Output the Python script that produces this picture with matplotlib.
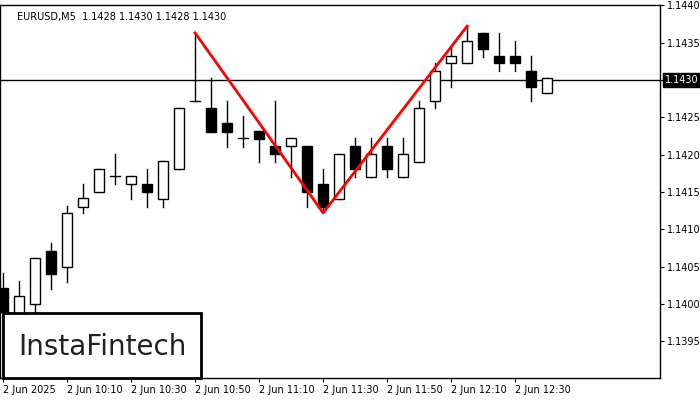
import matplotlib
matplotlib.use("Agg")
import matplotlib.pyplot as plt
from matplotlib.patches import Rectangle

opens  = [1.14022,1.13980,1.14000,1.14071,1.14050,1.14130,1.14150,1.14171,1.14161,1.14161,1.14141,1.14181,1.14272,1.14262,1.14242,1.14222,1.14232,1.14211,1.14211,1.14211,1.14161,1.14141,1.14211,1.14170,1.14211,1.14170,1.14190,1.14272,1.14322,1.14322,1.14363,1.14332,1.14332,1.14312,1.14282]
highs  = [1.14042,1.14031,1.14062,1.14082,1.14131,1.14161,1.14181,1.14201,1.14171,1.14181,1.14191,1.14262,1.14363,1.14302,1.14272,1.14252,1.14232,1.14272,1.14222,1.14211,1.14181,1.14201,1.14222,1.14222,1.14222,1.14222,1.14272,1.14322,1.14343,1.14372,1.14363,1.14363,1.14352,1.14332,1.14302]
lows   = [1.13990,1.13980,1.13990,1.14020,1.14030,1.14122,1.14150,1.14161,1.14141,1.14130,1.14130,1.14181,1.14272,1.14230,1.14210,1.14210,1.14190,1.14190,1.14170,1.14130,1.14122,1.14141,1.14170,1.14170,1.14170,1.14170,1.14190,1.14262,1.14290,1.14322,1.14330,1.14312,1.14312,1.14272,1.14282]
closes = [1.13990,1.14011,1.14062,1.14040,1.14122,1.14142,1.14181,1.14171,1.14171,1.14150,1.14191,1.14262,1.14272,1.14230,1.14230,1.14222,1.14221,1.14201,1.14222,1.14150,1.14130,1.14201,1.14181,1.14201,1.14181,1.14201,1.14262,1.14312,1.14332,1.14352,1.14341,1.14322,1.14322,1.14290,1.14302]
pattern_idx = [12, 20, 29]
pattern_price = [1.14363, 1.14122, 1.14372]
tick_idx = [0, 4, 8, 12, 16, 20, 24, 28, 32]
tick_labels = ["2 Jun 2025", "2 Jun 10:10", "2 Jun 10:30", "2 Jun 10:50", "2 Jun 11:10",
               "2 Jun 11:30", "2 Jun 11:50", "2 Jun 12:10", "2 Jun 12:30"]
y_ticks = [1.1395, 1.1400, 1.1405, 1.1410, 1.1415, 1.1420, 1.1425, 1.1430, 1.1435, 1.1440]
last_price = 1.1430

fig = plt.figure(figsize=(7, 4), dpi=100)
ax = fig.add_axes([0.0, 0.055, 0.943, 0.932])
ax.set_xlim(-0.19, 41.06)
ax.set_ylim(1.13901, 1.1440)
w = 0.62
for i, (o, h, l, c) in enumerate(zip(opens, highs, lows, closes)):
    ax.plot([i, i], [l, h], color="black", lw=1, zorder=2)
    bot, top = min(o, c), max(o, c)
    face = "black" if c < o else "white"
    if top - bot < 0.00002:
        ax.plot([i - w/2, i + w/2], [o, o], color="black", lw=1, zorder=3)
    else:
        ax.add_patch(Rectangle((i - w/2, bot), w, top - bot, facecolor=face,
                               edgecolor="black", lw=1, zorder=3))
ax.plot(pattern_idx, pattern_price, color="red", lw=2, zorder=4)
ax.axhline(last_price, color="black", lw=1, zorder=1)

ax.yaxis.tick_right()
ax.set_yticks(y_ticks)
ax.set_yticklabels(["" if abs(v - last_price) < 1e-9 else f"{v:.4f}" for v in y_ticks], fontsize=7)
ax.set_xticks(tick_idx)
ax.set_xticklabels(tick_labels, fontsize=7, ha="left")
ax.tick_params(axis="x", length=3, pad=2)
ax.tick_params(axis="y", length=3, pad=2)
for s in ax.spines.values():
    s.set_linewidth(1)

ax.text(1.007, last_price, "1.1430", transform=ax.get_yaxis_transform(), fontsize=7,
        color="white", va="center", ha="left",
        bbox=dict(boxstyle="square,pad=0.2", facecolor="black", edgecolor="black"))
ax.text(0.025, 0.982, "EURUSD,M5  1.1428 1.1430 1.1428 1.1430", transform=ax.transAxes,
        fontsize=7, va="top", ha="left")

fig.patches.append(Rectangle((3/700, 1 - 378/400), 198/700, 65/400, transform=fig.transFigure,
                             facecolor="white", edgecolor="black", lw=2, zorder=10))
fig.text(102/700, 1 - 347/400, "InstaFintech", fontsize=20, ha="center", va="center",
         color="#222222", weight="medium", zorder=11)
fig.savefig("out.png", dpi=100)
